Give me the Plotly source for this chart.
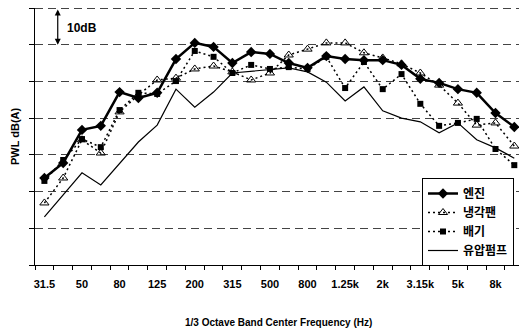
import plotly.graph_objects as go

freqs = ["31.5", "40", "50", "63", "80", "100", "125", "160", "200", "250", "315", "400",
         "500", "630", "800", "1k", "1.25k", "1.6k", "2k", "2.5k", "3.15k", "4k", "5k", "6.3k", "8k", "10k"]
tick_labels = ["31.5", "50", "80", "125", "200", "315", "500", "800", "1.25k", "2k", "3.15k", "5k", "8k"]

engine = [23.7, 27.8, 36.8, 37.9, 47.1, 45.5, 46.9, 56.1, 60.5, 59.4, 55.0, 58.0, 57.5,
          55.0, 53.7, 56.9, 56.1, 55.8, 55.8, 54.5, 50.7, 49.6, 47.9, 46.9, 41.4, 37.6]
fan = [16.9, 23.7, 34.1, 30.5, 41.7, 46.3, 50.4, 50.9, 53.4, 54.2, 52.6, 50.4, 52.3,
       57.2, 58.8, 60.5, 60.5, 57.8, 56.4, 54.8, 52.3, 49.0, 44.1, 38.1, 38.7, 32.4]
exhaust = [22.9, 28.6, 34.3, 32.1, 42.2, 46.9, 46.6, 50.1, 58.3, 56.7, 52.3, 54.5, 53.4,
           53.9, 53.4, 56.7, 48.2, 55.3, 47.9, 52.0, 43.9, 37.9, 38.7, 39.8, 31.6, 27.2]
pump = [13.1, 19.1, 25.1, 21.8, 27.8, 33.5, 38.1, 47.9, 43.0, 47.1, 52.3, 52.8, 53.4,
        53.7, 52.6, 49.8, 44.7, 48.5, 42.0, 40.0, 39.0, 36.0, 38.7, 34.1, 31.9, 29.1]

names = ["엔진", "냉각팬", "배기", "유압펌프"]

x = list(range(len(freqs)))
FONT = "Liberation Sans, Arial, Noto Sans CJK KR"
W, H = 519, 332
L, T, B = 35, 8, 67
PW, PH = W - L, H - T - B  # 484, 257


def px_x(p):
    return (p - L) / PW


def px_y(p):
    return (H - B - p) / PH


fig = go.Figure()
fig.add_trace(go.Scatter(x=x, y=pump, name="<b>%s</b>" % names[3], mode="lines",
                         line=dict(color="black", width=1.2)))
fig.add_trace(go.Scatter(x=x, y=exhaust, name="<b>%s</b>" % names[2], mode="lines+markers",
                         line=dict(color="black", width=1.5, dash="2px,3px"),
                         marker=dict(symbol="square", size=6, color="black")))
fig.add_trace(go.Scatter(x=x, y=fan, name="<b>%s</b>" % names[1], mode="lines+markers",
                         line=dict(color="black", width=1.5, dash="2px,3px"),
                         marker=dict(symbol="triangle-up-open", size=8, color="black",
                                     line=dict(width=1))))
fig.add_trace(go.Scatter(x=x, y=engine, name="<b>%s</b>" % names[0], mode="lines+markers",
                         line=dict(color="black", width=2.5),
                         marker=dict(symbol="diamond", size=8, color="black")))

# top dashed border
fig.add_shape(type="line", xref="paper", yref="y", x0=0, x1=1, y0=70, y1=70,
              line=dict(color="#444", width=2, dash="8px,5px"))

# 10 dB scale arrow
fig.add_annotation(x=0.71, y=60, ax=0.71, ay=70, xref="x", yref="y", axref="x", ayref="y",
                   text="", showarrow=True, arrowhead=2, arrowside="end+start",
                   arrowsize=1, arrowwidth=1.2, arrowcolor="black")
fig.add_annotation(x=1.1, y=64.6, xref="x", yref="y", text="<b>10dB</b>", showarrow=False,
                   xanchor="left", yanchor="middle", font=dict(size=12, color="black", family=FONT))

# y title
fig.add_annotation(x=px_x(15), y=px_y(136), xref="paper", yref="paper", text="<b>PWL dB(A)</b>",
                   showarrow=False, textangle=-90, xanchor="center", yanchor="middle",
                   font=dict(size=11, color="black", family=FONT))
# x title
fig.add_annotation(x=px_x(278), y=px_y(322), xref="paper", yref="paper",
                   text="<b>1/3 Octave Band Center Frequency (Hz)</b>",
                   showarrow=False, xanchor="center", yanchor="middle",
                   font=dict(size=10, color="black", family=FONT))

fig.update_layout(
    width=W, height=H,
    margin=dict(l=L, r=0, t=T, b=B, autoexpand=False),
    plot_bgcolor="white", paper_bgcolor="white",
    font=dict(family=FONT, color="black"),
    showlegend=True,
    legend=dict(x=px_x(422), y=px_y(178), xanchor="left", yanchor="top",
                bgcolor="white", bordercolor="black", borderwidth=1,
                traceorder="reversed", itemwidth=30,
                font=dict(size=12, color="black", family="Noto Sans CJK KR, Liberation Sans"),
                tracegroupgap=0),
    xaxis=dict(range=[-0.5, 25.25], tickmode="array", automargin=False,
               tickvals=list(range(0, 26, 2)), ticktext=["<b>%s</b>" % t for t in tick_labels],
               ticks="", showgrid=False, zeroline=False,
               showline=True, linecolor="black", linewidth=1,
               tickfont=dict(size=11, color="black", family=FONT),
               ticklabelstandoff=9,
               minor=dict(tickmode="array", tickvals=[i - 0.5 for i in range(27)],
                          ticks="outside", ticklen=4, tickcolor="black", showgrid=False)),
    yaxis=dict(range=[0, 70], tickmode="array", tickvals=list(range(0, 71, 10)), automargin=False,
               showticklabels=False, ticks="outside", ticklen=5, tickcolor="black",
               showline=True, linecolor="black", linewidth=1, zeroline=False,
               showgrid=True, gridcolor="#444", gridwidth=1, griddash="8px,5px"),
)

fig.write_html("out.html", config={"displayModeBar": False},
               post_script="document.body.style.margin='0';document.body.style.overflow='hidden';")
